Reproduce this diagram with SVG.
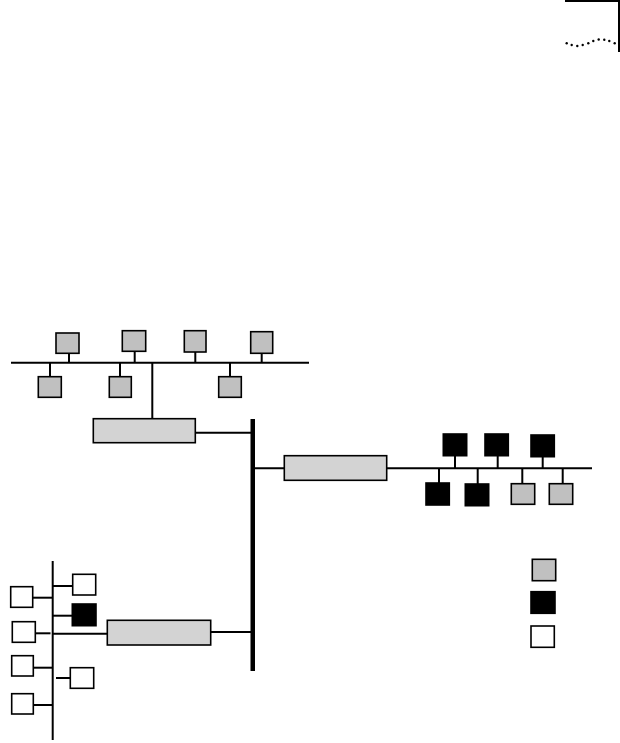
<svg xmlns="http://www.w3.org/2000/svg" width="620" height="743" viewBox="0 0 620 743">
<style>
.g{fill:#c0c0c0;stroke:#000;stroke-width:1.6}
.k{fill:#000;stroke:#000;stroke-width:1.6}
.w{fill:#fff;stroke:#000;stroke-width:1.6}
.r{fill:#d3d3d3;stroke:#000;stroke-width:1.6}
.l{stroke:#000;stroke-width:2;fill:none}
</style>
<rect width="620" height="743" fill="#fff"/>
<g id="corner">
<path d="M565 1 H619 V52" fill="none" stroke="#000" stroke-width="2"/>
<g fill="#000">
<circle cx="566.7" cy="43.3" r="1.2"/><circle cx="571.7" cy="45" r="1.2"/><circle cx="577.3" cy="46" r="1.2"/><circle cx="582.7" cy="45" r="1.2"/><circle cx="588.3" cy="43.3" r="1.2"/><circle cx="593.3" cy="41" r="1.2"/><circle cx="598.7" cy="39.5" r="1.2"/><circle cx="604.3" cy="39.7" r="1.2"/><circle cx="609.3" cy="41" r="1.2"/><circle cx="614.7" cy="43.3" r="1.2"/>
</g>
</g>
<g id="connectors">
<line class="l" x1="11" y1="362.7" x2="309" y2="362.7"/>
<line class="l" x1="69" y1="353" x2="69" y2="362.7"/>
<line class="l" x1="134.7" y1="351" x2="134.7" y2="362.7"/>
<line class="l" x1="195.3" y1="352" x2="195.3" y2="362.7"/>
<line class="l" x1="261.7" y1="353" x2="261.7" y2="362.7"/>
<line class="l" x1="50" y1="362.7" x2="50" y2="377"/>
<line class="l" x1="120" y1="362.7" x2="120" y2="377"/>
<line class="l" x1="230" y1="362.7" x2="230" y2="377"/>
<line class="l" x1="152.3" y1="362.7" x2="152.3" y2="419"/>
<line class="l" x1="195" y1="432.7" x2="252" y2="432.7"/>
<rect x="250.5" y="419" width="4.5" height="252" fill="#000"/>
<line class="l" x1="254" y1="468.3" x2="592" y2="468.3"/>
<line class="l" x1="455" y1="455.5" x2="455" y2="468.3"/>
<line class="l" x1="497.7" y1="455.5" x2="497.7" y2="468.3"/>
<line class="l" x1="542.7" y1="456.5" x2="542.7" y2="468.3"/>
<line class="l" x1="439" y1="468.3" x2="439" y2="483"/>
<line class="l" x1="477.7" y1="468.3" x2="477.7" y2="484"/>
<line class="l" x1="522.3" y1="468.3" x2="522.3" y2="483.7"/>
<line class="l" x1="562.7" y1="468.3" x2="562.7" y2="483.7"/>
<line class="l" x1="52.7" y1="561" x2="52.7" y2="740"/>
<line class="l" x1="32.7" y1="597.7" x2="52.7" y2="597.7"/>
<line class="l" x1="35.3" y1="633.3" x2="50.5" y2="633.3"/>
<line class="l" x1="33.3" y1="667.7" x2="52.7" y2="667.7"/>
<line class="l" x1="33.3" y1="705" x2="52.7" y2="705"/>
<line class="l" x1="52.7" y1="586" x2="72.7" y2="586"/>
<line class="l" x1="52.7" y1="615.7" x2="72.3" y2="615.7"/>
<line class="l" x1="52.7" y1="633.7" x2="107.3" y2="633.7"/>
<line class="l" x1="56" y1="678" x2="70.3" y2="678"/>
<line class="l" x1="210.7" y1="632" x2="251" y2="632"/>
</g>
<g id="t1"><rect class="g" x="56" y="333" width="23" height="20.3"/></g>
<g id="t2"><rect class="g" x="122.3" y="330.7" width="23.4" height="20.6"/></g>
<g id="t3"><rect class="g" x="184.3" y="330.7" width="21.7" height="21.3"/></g>
<g id="t4"><rect class="g" x="250.7" y="331.7" width="22" height="21.6"/></g>
<g id="t5"><rect class="g" x="38.3" y="376.7" width="23" height="20.6"/></g>
<g id="t6"><rect class="g" x="109.3" y="376.7" width="22" height="20.6"/></g>
<g id="t7"><rect class="g" x="218.7" y="376.7" width="22.6" height="20.6"/></g>
<g id="router1"><rect class="r" x="93.3" y="418.7" width="102" height="24"/></g>
<g id="router2"><rect class="r" x="284.3" y="455.7" width="102.4" height="24.6"/></g>
<g id="router3"><rect class="r" x="107.3" y="620.3" width="103.4" height="24.7"/></g>
<g id="e1"><rect class="k" x="443.3" y="434" width="23.4" height="21.7"/></g>
<g id="e2"><rect class="k" x="485" y="434" width="23.3" height="21.7"/></g>
<g id="e3"><rect class="k" x="531" y="435" width="23.3" height="21.7"/></g>
<g id="e4"><rect class="k" x="426" y="483" width="23.3" height="22"/></g>
<g id="e5"><rect class="k" x="465.3" y="484" width="23.4" height="21.7"/></g>
<g id="e6"><rect class="g" x="511.3" y="483.7" width="23.4" height="20.6"/></g>
<g id="e7"><rect class="g" x="549.3" y="483.7" width="23.4" height="20.6"/></g>
<g id="l1"><rect class="w" x="10.7" y="586.7" width="22" height="20.6"/></g>
<g id="l2"><rect class="w" x="12.3" y="621.7" width="23" height="20.6"/></g>
<g id="l3"><rect class="w" x="11.7" y="655.7" width="21.6" height="20.3"/></g>
<g id="l4"><rect class="w" x="11.7" y="693.7" width="21.6" height="20.3"/></g>
<g id="r1"><rect class="w" x="72.7" y="574.3" width="23" height="20.7"/></g>
<g id="r2"><rect class="k" x="72.3" y="604" width="23.7" height="21.7"/></g>
<g id="r3"><rect class="w" x="70.3" y="667.7" width="23.4" height="20.6"/></g>
<g id="legend-gray"><rect class="g" x="532.3" y="559.3" width="23.4" height="21.4"/></g>
<g id="legend-black"><rect class="k" x="531" y="591.7" width="24" height="21.6"/></g>
<g id="legend-white"><rect class="w" x="531" y="626" width="23.3" height="21.3"/></g>
</svg>
